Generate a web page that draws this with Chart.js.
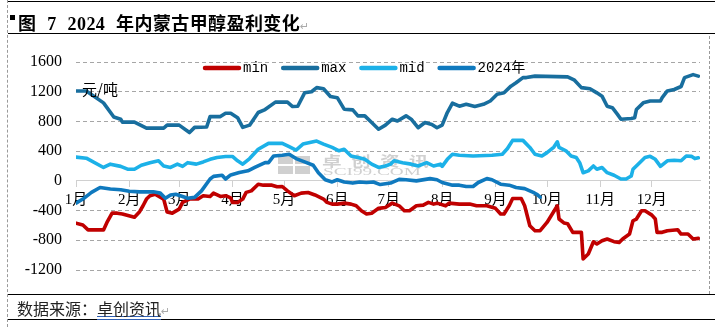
<!DOCTYPE html>
<html>
<head>
<meta charset="utf-8">
<script src="https://cdn.jsdelivr.net/npm/chart.js@4.4.1/dist/chart.umd.min.js"></script>
<style>
  html, body { margin: 0; padding: 0; background: #fff; }
  #page { position: relative; width: 715px; height: 327px; overflow: hidden; }
  #profitChart { position: absolute; left: 0; top: 0; }
  .rule { position: absolute; left: 8px; right: 0; height: 0; border-top: 1px solid #000; }
  .vdash { position: absolute; width: 0; border-left: 1px dashed #9a9a9a; }
  #title { position: absolute; left: 18px; top: 9px; line-height: 20px; font: bold 18px "Liberation Serif", "Noto Sans CJK SC"; color: #000; white-space: nowrap; word-spacing: 6px; letter-spacing: 0.4px; }
  #sq { position: absolute; left: 10px; top: 15px; width: 5px; height: 5px; background: #000; }
  #unit { position: absolute; left: 82px; top: 78px; line-height: 18px; font: 15px "Noto Sans CJK SC"; color: #000; }
  #source { position: absolute; left: 17px; top: 296px; line-height: 18px; font: 16px "Noto Sans CJK SC"; color: #222; white-space: nowrap; }
  #source .link { text-decoration: underline double #2f5fb3; }
  .mark { color: #aaa; font: 11px "DejaVu Sans"; font-weight: normal; letter-spacing: 0; }
</style>
</head>
<body>
<div id="page">
  <canvas id="profitChart" width="715" height="327"></canvas>
  <div class="rule" style="top:1px"></div>
  <div class="rule" style="top:33px"></div>
  <div class="rule" style="top:294px"></div>
  <div class="rule" style="top:319px"></div>
  <div class="vdash" style="left:7px; top:0; height:327px"></div>
  <div class="vdash" style="left:709px; top:36px; height:258px"></div>
  <div id="sq"></div>
  <div id="title">图 7 2024 年内蒙古甲醇盈利变化<span class="mark">↵</span></div>
  <div id="unit">元/吨</div>
  <div id="source">数据来源：<span class="link">卓创资讯</span><span class="mark">↵</span></div>
</div>
<script>
// month axis (2024, day index from Jan 1)
const monthLabels = ["1月", "2月", "3月", "4月", "5月", "6月", "7月", "8月", "9月", "10月", "11月", "12月"];
const monthStarts = [0, 31, 60, 91, 121, 152, 182, 213, 244, 274, 305, 335];
const yTickValues = [-1200, -800, -400, 0, 400, 800, 1200, 1600];

// 元/吨
const minDays = [0,4,7,16,18,21,24,27,34,37,39,41,43,46,51,53,56,60,62,66,71,74,78,80,84,87,90,91,94,97,99,102,106,109,114,117,120,123,127,131,135,139,144,146,149,152,156,160,163,166,169,172,176,180,184,188,191,194,198,202,205,208,210,215,217,223,229,233,239,244,247,249,252,254,259,261,264,267,270,274,280,281,284,286,289,294,295,298,301,303,306,309,313,316,318,322,324,326,329,331,335,337,338,341,344,350,352,356,359,362];
const minValues = [-570,-595,-660,-660,-560,-435,-435,-445,-490,-415,-335,-245,-200,-180,-245,-420,-435,-380,-290,-245,-245,-200,-210,-165,-210,-200,-230,-290,-290,-245,-155,-135,-45,-58,-58,-80,-76,-135,-200,-165,-157,-190,-245,-290,-313,-313,-300,-313,-336,-403,-447,-435,-370,-358,-300,-336,-403,-403,-336,-327,-290,-313,-300,-336,-300,-313,-313,-336,-336,-370,-447,-447,-336,-237,-237,-336,-604,-671,-671,-560,-336,-514,-568,-577,-693,-693,-1050,-985,-820,-850,-806,-783,-819,-828,-783,-716,-537,-514,-403,-403,-461,-514,-693,-693,-671,-658,-716,-716,-783,-774];

const maxDays = [0,6,16,22,26,27,34,41,51,53,60,66,69,76,78,84,87,90,94,97,101,106,110,116,123,126,129,133,137,140,144,148,152,156,161,164,168,172,176,180,184,187,192,195,199,203,207,210,213,216,219,223,227,232,237,241,245,249,253,256,260,262,267,286,290,294,299,303,306,309,312,315,317,323,325,326,330,334,340,341,344,348,352,354,359,362];
const maxValues = [1210,1210,1050,860,830,790,790,710,710,750,750,650,720,725,865,865,910,910,850,720,750,920,960,1060,1060,1000,1005,1185,1200,1255,1240,1135,1120,965,955,875,875,785,695,750,830,805,875,830,715,785,760,715,750,920,1045,1005,1030,1000,1030,1075,1165,1185,1275,1320,1390,1390,1410,1400,1355,1255,1240,1185,1140,1005,985,895,830,840,850,960,1050,1075,1075,1120,1210,1230,1270,1390,1430,1410];

const midDays = [0,6,16,20,26,30,34,38,43,48,51,55,59,62,65,70,74,78,82,87,91,94,97,101,106,112,120,124,128,132,136,140,144,149,153,156,160,164,168,172,176,180,183,185,190,195,199,204,208,212,213,216,219,223,231,242,248,251,254,260,264,267,271,274,278,280,281,285,288,291,293,295,298,301,303,306,309,313,317,320,323,324,327,331,334,337,340,344,348,352,355,358,360,362];
const midValues = [320,305,180,225,195,157,157,210,245,270,200,180,225,195,245,225,255,290,315,328,328,270,225,300,425,505,505,460,415,495,515,535,495,450,405,425,335,315,290,225,180,200,225,270,245,225,200,245,200,225,195,290,358,345,335,345,358,435,545,545,450,358,335,380,455,525,450,405,335,315,245,110,135,200,157,180,110,75,25,25,65,155,225,315,330,290,195,270,278,270,335,330,300,310];

const y2024Days = [0,4,9,14,20,26,31,37,45,49,52,55,58,62,65,69,73,78,80,85,87,90,95,100,104,110,112,115,120,124,128,133,138,141,145,149,152,156,161,165,169,173,177,183,188,192,198,206,210,213,219,223,227,231,234,239,242,247,252,256,261,264,266,268,270];
const y2024Values = [-300,-245,-155,-90,-110,-120,-140,-148,-148,-165,-235,-190,-180,-210,-235,-222,-135,25,60,75,25,80,112,135,180,245,245,335,345,358,300,255,210,110,15,-15,15,-15,-30,-15,-22,-15,-50,-30,20,15,0,30,15,-22,-58,-58,-76,-76,-22,30,15,-45,-58,-90,-105,-135,-155,-180,-220];

const toPoints = (days, values) => days.map((d, i) => ({ x: d, y: values[i] }));

const lineSet = (label, days, values, color, order) => ({
  label,
  data: toPoints(days, values),
  borderColor: color,
  backgroundColor: color,
  borderWidth: 3.6,
  pointRadius: 0,
  tension: 0,
  fill: false,
  borderJoinStyle: "round",
  borderCapStyle: "round",
  order,
});

const serif = "'Liberation Serif', 'Noto Sans CJK SC'";

// watermark behind the lines, legend strip on top
const overlay = {
  id: "overlay",
  beforeDatasetsDraw(chart) {
    const c = chart.ctx;
    c.save();
    c.fillStyle = "rgba(150,150,150,0.45)";
    c.fillRect(278, 156, 15, 8);
    c.fillRect(295, 156, 15, 8);
    c.fillRect(278, 166, 15, 8);
    c.fillRect(295, 166, 15, 8);
    c.textBaseline = "middle";
    c.font = "bold 14px 'Noto Sans CJK SC'";
    ["卓", "创", "资", "讯"].forEach((ch, i) => {
      c.save();
      c.translate(322 + i * 29, 161);
      c.scale(1.4, 1);
      c.fillText(ch, 0, 0);
      c.restore();
    });
    c.font = "11px 'Liberation Serif'";
    c.save();
    c.translate(323, 172);
    c.scale(1.75, 1);
    c.fillText("SCI99.COM", 0, 0);
    c.restore();
    c.restore();
  },
  afterDatasetsDraw(chart) {
    const c = chart.ctx;
    let x = 205;
    const y = 68;
    c.save();
    c.font = "14px 'Liberation Mono', 'Noto Sans CJK SC'";
    c.textBaseline = "middle";
    chart.data.datasets.forEach((ds) => {
      c.strokeStyle = ds.borderColor;
      c.lineWidth = 4.5;
      c.lineCap = "round";
      c.beginPath();
      c.moveTo(x, y);
      c.lineTo(x + 34, y);
      c.stroke();
      c.fillStyle = "#000";
      c.fillText(ds.label, x + 38, y);
      x += 38 + c.measureText(ds.label).width + 15;
    });
    c.restore();
  },
};

new Chart(document.getElementById("profitChart"), {
  type: "line",
  data: {
    datasets: [
      lineSet("min", minDays, minValues, "#C00000", 4),
      lineSet("max", maxDays, maxValues, "#186E9E", 3),
      lineSet("mid", midDays, midValues, "#1CB1E8", 2),
      lineSet("2024年", y2024Days, y2024Values, "#0F79BE", 1),
    ],
  },
  options: {
    responsive: false,
    animation: false,
    layout: { padding: { top: 62, bottom: 57, left: 0, right: 15 } },
    scales: {
      x: {
        type: "linear",
        min: 0,
        max: 363,
        position: { y: 0 },
        afterBuildTicks: (s) => { s.ticks = monthStarts.map((v) => ({ value: v })); },
        ticks: {
          callback: (v, i) => monthLabels[i],
          autoSkip: false,
          maxRotation: 0,
          padding: 4,
          color: "#000",
          font: { family: serif, size: 15 },
        },
        grid: { drawOnChartArea: false, drawTicks: true, tickLength: 6, color: "#d0d0d0" },
        border: { display: true, color: "#d0d0d0", width: 1 },
      },
      y: {
        min: -1200,
        max: 1600,
        afterBuildTicks: (s) => { s.ticks = yTickValues.map((v) => ({ value: v })); },
        afterFit: (s) => { s.width = 76; },
        ticks: {
          callback: (v) => String(v),
          padding: 14,
          color: "#000",
          font: { family: serif, size: 16 },
        },
        grid: {
          drawTicks: false,
          color: (c) => (c.tick && c.tick.value === 0 ? "rgba(0,0,0,0)" : "#a6a6a6"),
          lineWidth: 1,
        },
        border: { display: false, dash: [4, 3] },
      },
    },
    plugins: {
      legend: { display: false },
      tooltip: { enabled: false },
    },
  },
  plugins: [overlay],
});
</script>
</body>
</html>
